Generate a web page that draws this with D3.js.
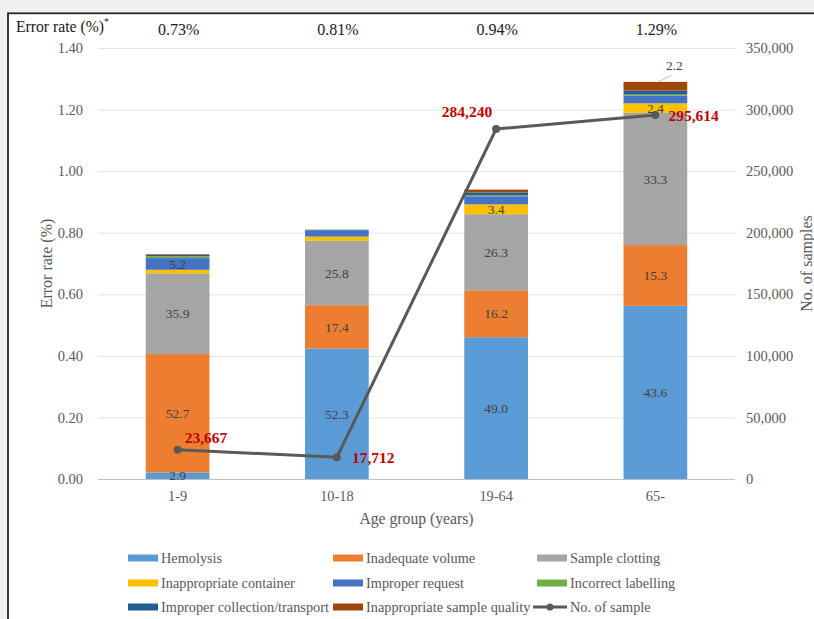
<!DOCTYPE html>
<html>
<head>
<meta charset="utf-8">
<script src="https://cdn.jsdelivr.net/npm/d3@7"></script>
<style>
  html, body { margin: 0; padding: 0; background: #f0f0f0; }
  svg { display: block; font-family: "Liberation Serif", "Times New Roman", serif; }
</style>
</head>
<body>
<svg id="chart" width="814" height="619"></svg>
<script>
// Age groups and overall error rate (%)
const ageGroups = ['1-9', '10-18', '19-64', '65-'];
const errorRates = [0.73, 0.81, 0.94, 1.29];
const sampleCounts = [23667, 17712, 284240, 295614];

// Share (%) of each error type within every age group, stacked bottom to top
const errorTypes = ['Hemolysis', 'Inadequate volume', 'Sample clotting', 'Inappropriate container',
  'Improper request', 'Incorrect labelling', 'Improper collection/transport', 'Inappropriate sample quality'];
const hemolysis = [2.9, 52.3, 49.0, 43.6];
const inadequateVolume = [52.7, 17.4, 16.2, 15.3];
const sampleClotting = [35.9, 25.8, 26.3, 33.3];
const inappropriateContainer = [1.6, 1.7, 3.4, 2.4];
const improperRequest = [5.2, 2.6, 2.8, 1.9];
const incorrectLabelling = [0.8, 0.1, 0.3, 0.3];
const improperCollection = [0.6, 0.1, 1.0, 1.0];
const inappropriateQuality = [0.3, 0.0, 1.0, 2.2];
const shares = [hemolysis, inadequateVolume, sampleClotting, inappropriateContainer,
  improperRequest, incorrectLabelling, improperCollection, inappropriateQuality];

// which segments carry a value label (index into errorTypes)
const labelled = [[0, 1, 2, 4], [0, 1, 2], [0, 1, 2, 3], [0, 1, 2, 3, 7]];

const colors = ['#5b9bd5', '#ed7d31', '#a5a5a5', '#ffc000', '#4472c4', '#70ad47', '#255e91', '#9e480e'];
const leftTicks = [0, 0.2, 0.4, 0.6, 0.8, 1.0, 1.2, 1.4];
const rightTicks = [0, 50000, 100000, 150000, 200000, 250000, 300000, 350000];

const svg = d3.select('#chart');
const plotLeft = 98, plotRight = 735, plotTop = 48, plotBottom = 479;
const textGrey = '#595959';

// frame
svg.append('rect').attr('x', 8).attr('y', 13.3).attr('width', 830).attr('height', 640)
  .attr('fill', '#fff').attr('stroke', '#262626').attr('stroke-width', 1.8);

const x = d3.scaleBand().domain(ageGroups).range([plotLeft, plotRight]).paddingInner(0.6).paddingOuter(0.3);
const y = d3.scaleLinear().domain([0, 1.4]).range([plotBottom, plotTop]);
const yR = d3.scaleLinear().domain([0, 350000]).range([plotBottom, plotTop]);

// left axis + grid
const gL = svg.append('g').attr('transform', `translate(${plotLeft},0)`)
  .call(d3.axisLeft(y).tickValues(leftTicks).tickFormat(d3.format('.2f'))
    .tickSize(-(plotRight - plotLeft)).tickPadding(15));
gL.select('.domain').remove();
gL.selectAll('.tick line').attr('stroke', d => d === 0 ? '#bfbfbf' : '#e3e3e3');
gL.selectAll('.tick text').attr('fill', textGrey).style('font-size', '14.5px').style('font-family', 'Liberation Serif');

// right axis
const gR = svg.append('g').attr('transform', `translate(${plotRight},0)`)
  .call(d3.axisRight(yR).tickValues(rightTicks).tickFormat(d3.format(',')).tickSize(0).tickPadding(11));
gR.select('.domain').remove();
gR.selectAll('.tick text').attr('fill', textGrey).style('font-size', '14.5px').style('font-family', 'Liberation Serif');

// x axis labels
const gX = svg.append('g').attr('transform', `translate(0,${plotBottom})`)
  .call(d3.axisBottom(x).tickSize(0).tickPadding(12));
gX.select('.domain').remove();
gX.selectAll('.tick text').attr('fill', textGrey).style('font-size', '14.3px').style('font-family', 'Liberation Serif');

// stacked bars
const stackRows = ageGroups.map((g, i) => {
  const row = { group: g };
  errorTypes.forEach((t, k) => { row[t] = shares[k][i] / 100 * errorRates[i]; });
  return row;
});
const series = d3.stack().keys(errorTypes)(stackRows);

svg.append('g').selectAll('g').data(series).join('g')
  .attr('fill', (d, k) => colors[k])
  .selectAll('rect').data(d => d).join('rect')
  .attr('x', d => x(d.data.group))
  .attr('width', x.bandwidth())
  .attr('y', d => y(d[1]))
  .attr('height', d => Math.max(0, y(d[0]) - y(d[1])));

// segment labels
const segLabels = svg.append('g').style('font-size', '13.5px').attr('fill', '#404040');
ageGroups.forEach((g, i) => {
  labelled[i].forEach(k => {
    const seg = series[k][i];
    const cx = x(g) + x.bandwidth() / 2;
    if (k === 7) {
      // small top segment: label above with leader line
      segLabels.append('line').attr('x1', cx + 3).attr('y1', y(seg[1]))
        .attr('x2', cx + 17).attr('y2', y(seg[1]) - 7).attr('stroke', '#bfbfbf');
      segLabels.append('text').attr('x', cx + 19).attr('y', y(seg[1]) - 12)
        .attr('text-anchor', 'middle').text(shares[k][i].toFixed(1));
    } else {
      segLabels.append('text').attr('x', cx).attr('y', (y(seg[0]) + y(seg[1])) / 2)
        .attr('dy', '0.35em').attr('text-anchor', 'middle').text(shares[k][i].toFixed(1));
    }
  });
});

// sample count line
const pts = ageGroups.map((g, i) => [x(g) + x.bandwidth() / 2, yR(sampleCounts[i])]);
svg.append('path').attr('d', d3.line()(pts)).attr('fill', 'none')
  .attr('stroke', '#595959').attr('stroke-width', 3);
svg.append('g').selectAll('circle').data(pts).join('circle')
  .attr('cx', d => d[0]).attr('cy', d => d[1]).attr('r', 4).attr('fill', '#595959');

const countOffsets = [[7, -7, 'start'], [15, 6, 'start'], [-4, -12, 'end'], [13, 6.5, 'start']];
svg.append('g').selectAll('text').data(pts).join('text')
  .attr('x', (d, i) => d[0] + countOffsets[i][0])
  .attr('y', (d, i) => d[1] + countOffsets[i][1])
  .attr('text-anchor', (d, i) => countOffsets[i][2])
  .attr('fill', '#c00000').style('font-weight', 'bold').style('font-size', '15.5px')
  .text((d, i) => d3.format(',')(sampleCounts[i]));

// error rate totals along top
svg.append('g').selectAll('text').data(ageGroups).join('text')
  .attr('x', d => x(d) + x.bandwidth() / 2 + 1).attr('y', 35)
  .attr('text-anchor', 'middle').attr('fill', '#1a1a1a').style('font-size', '16px')
  .text((d, i) => errorRates[i].toFixed(2) + '%');

const hdr = svg.append('text').attr('x', 16).attr('y', 32).attr('fill', '#1a1a1a').style('font-size', '15.7px');
hdr.append('tspan').text('Error rate (%)');
hdr.append('tspan').attr('dy', -7).style('font-size', '10px').text('*');

// axis titles
svg.append('text').attr('transform', `translate(52,${(plotTop + plotBottom) / 2}) rotate(-90)`)
  .attr('text-anchor', 'middle').attr('fill', textGrey).style('font-size', '16px').text('Error rate (%)');
svg.append('text').attr('transform', `translate(812,${(plotTop + plotBottom) / 2}) rotate(-90)`)
  .attr('text-anchor', 'middle').attr('fill', textGrey).style('font-size', '16px').text('No. of samples');
svg.append('text').attr('x', (plotLeft + plotRight) / 2).attr('y', 524)
  .attr('text-anchor', 'middle').attr('fill', textGrey).style('font-size', '15.7px').text('Age group (years)');

// legend
const legendItems = errorTypes.map((t, k) => ({ name: t, color: colors[k], line: false }))
  .concat([{ name: 'No. of sample', color: '#595959', line: true }]);
const colX = [128, 333, 537], rowY = [558, 583, 607];
const lg = svg.append('g').selectAll('g').data(legendItems).join('g')
  .attr('transform', (d, i) => `translate(${colX[i % 3]},${rowY[Math.floor(i / 3)]})`);
lg.filter(d => !d.line).append('rect').attr('x', 0).attr('y', -3.5).attr('width', 30).attr('height', 7)
  .attr('fill', d => d.color);
lg.filter(d => d.line).append('line').attr('x1', -4).attr('x2', 30).attr('y1', 0).attr('y2', 0)
  .attr('stroke', d => d.color).attr('stroke-width', 3);
lg.filter(d => d.line).append('circle').attr('cx', 13).attr('cy', 0).attr('r', 3.5).attr('fill', d => d.color);
lg.append('text').attr('x', 33).attr('dy', '0.35em').attr('fill', textGrey).style('font-size', '14.3px')
  .text(d => d.name);
</script>
</body>
</html>
